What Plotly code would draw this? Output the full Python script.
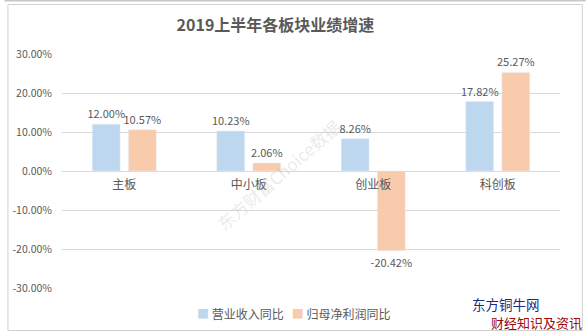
import plotly.graph_objects as go

# Board categories and half-year growth rates (%)
boards = ["主板", "中小板", "创业板", "科创板"]
revenue_yoy = [12.00, 10.23, 8.26, 17.82]
net_profit_yoy = [10.57, 2.06, -20.42, 25.27]
series_names = ["营业收入同比", "归母净利润同比"]
series_colors = ["#BDD7EE", "#F8CBAD"]
tick_vals = [-30, -20, -10, 0, 10, 20, 30]

W, H = 586, 335
L, R, T, B = 58, 26, 54, 47
PW, PH = W - L - R, H - T - B


def px(x):
    return (x - L) / PW


def py(y):
    return (H - B - y) / PH


FONT = "Noto Sans CJK SC, Microsoft YaHei, sans-serif"
GREY = "#595959"

fig = go.Figure()
for name, vals, col in zip(series_names, [revenue_yoy, net_profit_yoy], series_colors):
    fig.add_trace(go.Bar(
        x=boards, y=vals, name=name, marker_color=col, showlegend=False,
        text=[f"{v:.2f}%" for v in vals], textposition="outside",
        constraintext="none",
        textfont=dict(size=11, color=GREY, family=FONT), cliponaxis=False,
    ))

fig.update_layout(
    width=W, height=H,
    margin=dict(l=L, r=R, t=T, b=B),
    paper_bgcolor="white", plot_bgcolor="white",
    font=dict(family=FONT, color=GREY),
    barmode="group", bargap=0.42, bargroupgap=0.23,
    title=dict(text="<b>2019上半年各板块业绩增速</b>", x=px(294), xanchor="center",
               y=1 - 25 / H, yanchor="middle",
               font=dict(size=16, color=GREY, family=FONT)),
)
fig.update_xaxes(anchor="free", position=0.5, showline=False, ticks="", showgrid=False,
                 ticklabelstandoff=5,
                 tickfont=dict(size=12, color=GREY, family=FONT))
fig.update_yaxes(range=[-30, 30], tickvals=tick_vals,
                 ticktext=[f"{v:.2f}%" for v in tick_vals],
                 showgrid=True, gridcolor="#D9D9D9", gridwidth=1,
                 zeroline=True, zerolinecolor="#D9D9D9", zerolinewidth=1,
                 tickfont=dict(size=10.5, color=GREY, family=FONT), ticks="",
                 ticklabelstandoff=9)

# legend: small coloured squares followed by the series names
legend_html = "   ".join(
    f'<span style="color:{c}">■</span> {n}' for n, c in zip(series_names, series_colors)
)
fig.add_annotation(text=legend_html, xref="paper", yref="paper",
                   x=px(292), y=py(313), showarrow=False, xanchor="center", yanchor="middle",
                   font=dict(size=12, color=GREY, family=FONT))

# outer chart frame
fig.add_shape(type="rect", xref="paper", yref="paper",
              x0=px(3.5), x1=px(582.5), y0=py(330.5), y1=py(4.5),
              line=dict(color="#D0D0D0", width=1), layer="below")
fig.add_shape(type="rect", xref="paper", yref="paper",
              x0=px(0), x1=px(586), y0=py(1.5), y1=py(0),
              line=dict(width=0), fillcolor="#C8C8C8", layer="below")

# faint diagonal watermark
fig.add_annotation(text="东方财富Choice数据", xref="paper", yref="paper",
                   x=px(276), y=py(174), showarrow=False, textangle=-41,
                   font=dict(size=17, color="rgba(170,170,170,0.25)", family=FONT))

# site brand text in the lower right corner
fig.add_annotation(text="东方铜牛网", xref="paper", yref="paper",
                   x=px(506), y=py(304), showarrow=False, xanchor="center", yanchor="middle",
                   borderpad=0,
                   font=dict(size=13.5, color="#1C2A80", family="Noto Sans CJK SC"))
fig.add_annotation(text="财经知识及资讯", xref="paper", yref="paper",
                   x=px(536), y=py(322.5), showarrow=False, xanchor="center", yanchor="middle",
                   borderpad=0,
                   font=dict(size=13, color="#9B0A0A", family="Noto Sans CJK SC"))

fig.write_html("out.html")
